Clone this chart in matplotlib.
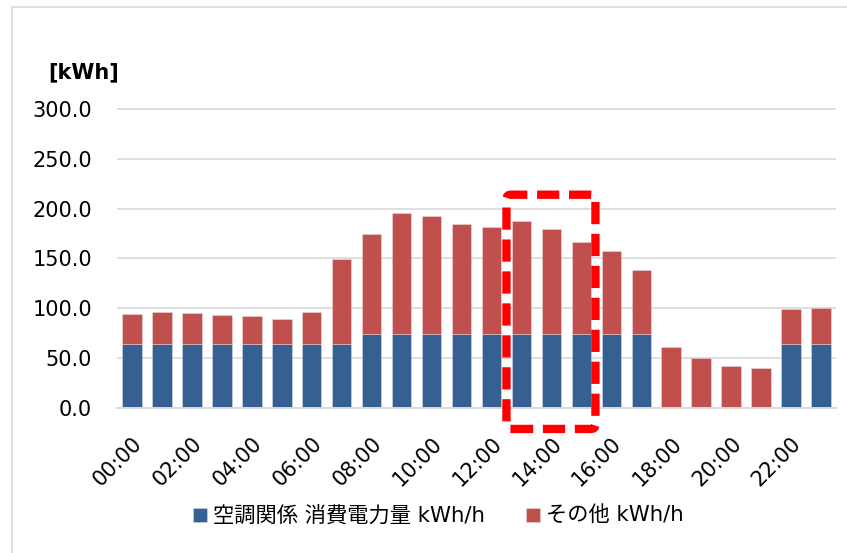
import matplotlib
matplotlib.use("Agg")
import matplotlib.pyplot as plt
from matplotlib.patches import FancyBboxPatch, Rectangle

plt.rcParams['font.family'] = ['DejaVu Sans', 'Noto Sans CJK JP']
plt.rcParams['lines.scale_dashes'] = False

# heures de la journée
heures = ["%02d:00" % h for h in range(24)]

# consommation clim (bas) et total (haut), kWh
clim = [64, 64, 64, 64, 64, 64, 64, 64,
        74, 74, 74, 74, 74, 74, 74, 74, 74, 74,
        0, 0, 0, 0,
        64, 64]
total = [94.5, 96.5, 95.5, 93.5, 92.8, 89.5, 96.2, 149.0,
         174.6, 195.4, 192.7, 184.7, 181.7, 187.7, 179.7, 166.9,
         157.3, 138.6, 61.1, 50.4, 42.4, 39.7, 99.8, 100.0]
autre = [t - c for t, c in zip(total, clim)]

noms = ["空調関係 消費電力量 kWh/h", "その他 kWh/h"]
couleurs = ["#376092", "#C0504D"]

# zone mise en avant (heures 13 à 15)
zone_deb, zone_fin = 13, 15

W, H = 847, 553
fig = plt.figure(figsize=(W / 100, H / 100), dpi=100)
ax = fig.add_axes([117 / W, 1 - 408 / H, (836 - 117) / W, (408 - 107) / H])

x = list(range(len(heures)))
ax.bar(x, clim, width=0.65, color=couleurs[0], edgecolor=(1, 1, 1, 0.35),
       linewidth=0.6, label=noms[0], zorder=3)
ax.bar(x, autre, bottom=clim, width=0.65, color=couleurs[1],
       edgecolor=(1, 1, 1, 0.35), linewidth=0.6, label=noms[1], zorder=3)

ax.set_xlim(-0.5, 23.5)
ax.set_ylim(0, 302)
ax.set_yticks(range(0, 301, 50))
ax.set_yticklabels(["%.1f" % v for v in range(0, 301, 50)], fontsize=15)
ax.set_xticks(x[::2])
ax.set_xticklabels(heures[::2], fontsize=15, rotation=45, ha='right',
                   va='top', rotation_mode='anchor')
ax.tick_params(axis='both', length=0)
ax.tick_params(axis='y', pad=18)
ax.tick_params(axis='x', pad=18)

ax.grid(axis='y', color='#D9D9D9', linewidth=1.2, zorder=0)
for s in ['top', 'right', 'left']:
    ax.spines[s].set_visible(False)
ax.spines['bottom'].set_color('#D9D9D9')
ax.spines['bottom'].set_linewidth(1.4)
ax.spines['bottom'].set_zorder(4)

# cadre rouge pointillé
cadre = FancyBboxPatch((zone_deb - 0.5, -21), zone_fin - zone_deb + 0.97, 235,
                       boxstyle="round,pad=0,rounding_size=0.15",
                       mutation_aspect=30, fill=False, edgecolor='#FF0000',
                       linewidth=6, linestyle=(0, (16, 7)), clip_on=False,
                       zorder=5)
ax.add_patch(cadre)

fig.text(48 / W, 1 - 72 / H, "[kWh]", fontsize=15, fontweight='bold',
         ha='left', va='center')

# bord du graphique
fig.patches.append(Rectangle((12 / W, -0.1), 1.2, 1 - 7 / H + 0.1,
                             transform=fig.transFigure, fill=False,
                             edgecolor='#D9D9D9', linewidth=1.2))

fig.legend(loc='center left', bbox_to_anchor=(193 / W, 1 - 516 / H), ncol=2,
           frameon=False, fontsize=15.3, handlelength=0.66, handleheight=0.66,
           handletextpad=0.3, columnspacing=1.9, borderpad=0, borderaxespad=0)

fig.savefig("out.png", dpi=100)
